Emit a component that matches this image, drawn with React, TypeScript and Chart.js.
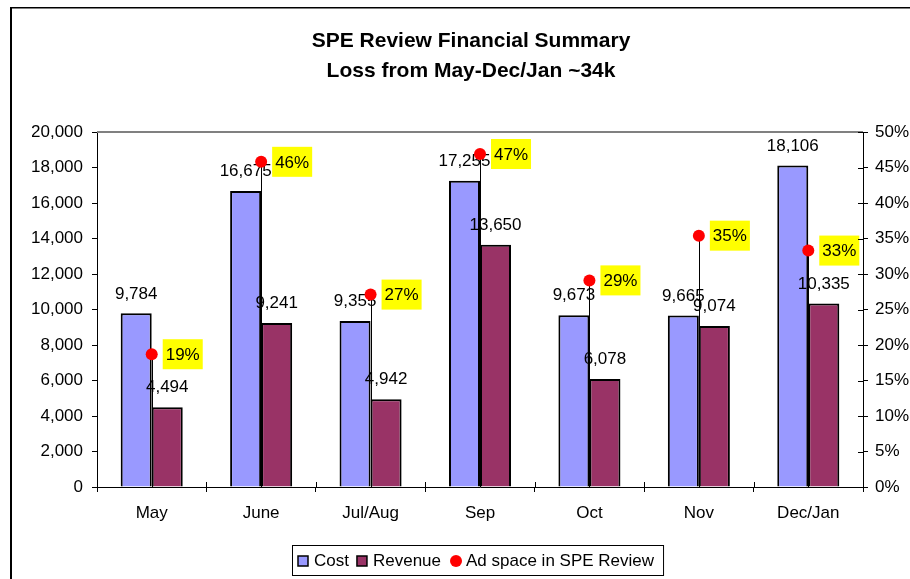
import React, { useEffect, useRef } from "react";
import { Chart, registerables } from "chart.js";

Chart.register(...registerables);

// ---------- data ----------
const categories = ["May", "June", "Jul/Aug", "Sep", "Oct", "Nov", "Dec/Jan"];
const costValues = [9784, 16675, 9355, 17255, 9673, 9665, 18106];
const revenueValues = [4494, 9241, 4942, 13650, 6078, 9074, 10335];
const adSpaceShare = [0.187, 0.458, 0.271, 0.469, 0.291, 0.354, 0.333];
const titleLines = ["SPE Review Financial Summary", "Loss from May-Dec/Jan ~34k"];
const seriesNames = ["Cost", "Revenue", "Ad space in SPE Review"];
const leftAxisMax = 20000;
const leftAxisStep = 2000;
const rightAxisMax = 0.5;
const rightAxisStep = 0.05;

const FONT = '"Liberation Sans", Arial, Helvetica, sans-serif';
const COST_COLOR = "#9999FF";
const REV_COLOR = "#993366";
const PT_COLOR = "#FF0000";

const fmtNum = (v: number) => Math.round(v).toLocaleString("en-US");
const fmtPct = (v: number) => `${Math.round(v * 100)}%`;

const decorPlugin = {
  id: "decor",
  beforeDraw(chart: any) {
    const ctx = chart.ctx;
    ctx.save();
    ctx.fillStyle = "#fff";
    ctx.fillRect(0, 0, chart.width, chart.height);
    ctx.fillStyle = "#000";
    ctx.fillRect(10, 7, chart.width - 10, 1.5);
    ctx.fillRect(10, 7, 2, chart.height - 7);
    ctx.restore();
  },
  beforeDatasetsDraw(chart: any) {
    const ctx = chart.ctx;
    const meta = chart.getDatasetMeta(2);
    const bottom = chart.chartArea.bottom;
    ctx.save();
    ctx.strokeStyle = "#000";
    ctx.lineWidth = 1;
    meta.data.forEach((pt: any) => {
      const x = Math.round(pt.x) + 0.5;
      ctx.beginPath();
      ctx.moveTo(x, pt.y);
      ctx.lineTo(x, bottom);
      ctx.stroke();
    });
    ctx.restore();
  },
  afterDatasetDraw(chart: any, args: any) {
    const ctx = chart.ctx;
    const idx = args.index;
    ctx.save();
    ctx.font = `17px ${FONT}`;
    ctx.textBaseline = "middle";
    if (idx === 0) {
      // cost is the last bar dataset drawn: label both bar series now
      ctx.textAlign = "center";
      ctx.fillStyle = "#000";
      [0, 1].forEach((d) => {
        const meta = chart.getDatasetMeta(d);
        const ds = chart.data.datasets[d];
        meta.data.forEach((el: any, j: number) => {
          ctx.fillText(fmtNum(ds.data[j]), el.x, el.y - 19.5);
        });
      });
    } else if (idx === 2) {
      const meta = chart.getDatasetMeta(2);
      const ds = chart.data.datasets[2];
      ctx.textAlign = "left";
      meta.data.forEach((el: any, j: number) => {
        const txt = fmtPct(ds.data[j]);
        const w = ctx.measureText(txt).width;
        ctx.fillStyle = "#FFFF00";
        ctx.fillRect(el.x + 11, el.y - 15, w + 6, 30);
        ctx.fillStyle = "#000";
        ctx.fillText(txt, el.x + 14, el.y + 1);
      });
    }
    ctx.restore();
  },
  afterDraw(chart: any) {
    const ctx = chart.ctx;
    const { left, right, top, bottom } = chart.chartArea;
    ctx.save();
    // plot area top border
    ctx.strokeStyle = "#808080";
    ctx.lineWidth = 2;
    ctx.beginPath();
    ctx.moveTo(left, top);
    ctx.lineTo(right, top);
    ctx.stroke();
    // inside parts of cross tick marks
    ctx.strokeStyle = "#000";
    ctx.lineWidth = 1;
    const n = categories.length;
    for (let i = 0; i <= n; i++) {
      const x = Math.round(left + (i * (right - left)) / n) + 0.5;
      ctx.beginPath();
      ctx.moveTo(x, bottom);
      ctx.lineTo(x, bottom - 5);
      ctx.stroke();
    }
    const y1 = chart.scales.y1;
    y1.ticks.forEach((t: any) => {
      const y = Math.round(y1.getPixelForValue(t.value)) + 0.5;
      ctx.beginPath();
      ctx.moveTo(right, y);
      ctx.lineTo(right - 5, y);
      ctx.stroke();
    });
    // legend
    ctx.font = `17px ${FONT}`;
    ctx.textBaseline = "middle";
    ctx.textAlign = "left";
    const boxL = 292;
    const boxT = 545;
    const boxH = 30;
    const cy = boxT + boxH / 2;
    let x = boxL + 6;
    const sq = (color: string) => {
      ctx.fillStyle = color;
      ctx.fillRect(x, cy - 4, 10, 10);
      ctx.strokeStyle = "#000";
      ctx.lineWidth = 1.5;
      ctx.strokeRect(x, cy - 4, 10, 10);
      x += 16;
    };
    const txt = (s: string, gap: number) => {
      ctx.fillStyle = "#000";
      ctx.fillText(s, x, cy + 1);
      x += ctx.measureText(s).width + gap;
    };
    sq(COST_COLOR);
    txt(seriesNames[0], 8);
    sq(REV_COLOR);
    txt(seriesNames[1], 9);
    ctx.fillStyle = PT_COLOR;
    ctx.beginPath();
    ctx.arc(x + 6, cy + 1, 6, 0, Math.PI * 2);
    ctx.fill();
    x += 16;
    txt(seriesNames[2], 9);
    ctx.strokeStyle = "#000";
    ctx.lineWidth = 1;
    ctx.strokeRect(boxL + 0.5, boxT + 0.5, x - boxL, boxH);
    ctx.restore();
  },
};

export default function App() {
  const ref = useRef<HTMLCanvasElement | null>(null);
  useEffect(() => {
    if (!ref.current) return;
    const tickFont = { family: FONT, size: 17 };
    const chart = new Chart(ref.current, {
      type: "bar",
      data: {
        labels: categories,
        datasets: [
          {
            label: seriesNames[0],
            data: costValues,
            backgroundColor: COST_COLOR,
            borderColor: "#000",
            borderWidth: 2,
            yAxisID: "y",
            order: 1,
            barPercentage: 1,
            categoryPercentage: 0.567,
          },
          {
            label: seriesNames[1],
            data: revenueValues,
            backgroundColor: REV_COLOR,
            borderColor: "#000",
            borderWidth: 2,
            yAxisID: "y",
            order: 1,
            barPercentage: 1,
            categoryPercentage: 0.567,
          },
          {
            type: "line",
            label: seriesNames[2],
            data: adSpaceShare,
            showLine: false,
            pointRadius: 6,
            pointBackgroundColor: PT_COLOR,
            pointBorderColor: PT_COLOR,
            pointBorderWidth: 0,
            yAxisID: "y1",
            order: 0,
          } as any,
        ],
      },
      options: {
        responsive: false,
        animation: false,
        layout: { padding: { left: 32, right: 0, top: 0, bottom: 52 } },
        plugins: {
          legend: { display: false },
          tooltip: { enabled: false },
          title: {
            display: true,
            text: titleLines,
            color: "#000",
            font: { family: FONT, size: 21, weight: "bold", lineHeight: "30px" } as any,
            padding: { top: 26, bottom: 46 },
          },
        },
        scales: {
          x: {
            afterFit: (s: any) => {
              s.height = 40;
            },
            grid: { display: true, drawOnChartArea: false, tickLength: 5, color: "#000", offset: true },
            border: { display: true, color: "#000", width: 1 },
            ticks: { font: tickFont, color: "#000", padding: 11, maxRotation: 0, autoSkip: false },
          },
          y: {
            position: "left",
            min: 0,
            max: leftAxisMax,
            afterFit: (s: any) => {
              s.width = 65;
            },
            grid: { display: true, drawOnChartArea: false, tickLength: 5, color: "#000" },
            border: { display: true, color: "#000", width: 1 },
            ticks: {
              stepSize: leftAxisStep,
              font: tickFont,
              color: "#000",
              padding: 9,
              autoSkip: false,
              callback: (v: any) => fmtNum(Number(v)),
            },
          },
          y1: {
            position: "right",
            min: 0,
            max: rightAxisMax,
            afterFit: (s: any) => {
              s.width = 47;
            },
            grid: { display: true, drawOnChartArea: false, tickLength: 5, color: "#000" },
            border: { display: true, color: "#000", width: 1 },
            ticks: {
              stepSize: rightAxisStep,
              font: tickFont,
              color: "#000",
              padding: 7,
              autoSkip: false,
              callback: (v: any) => fmtPct(Number(v)),
            },
          },
        },
      },
      plugins: [decorPlugin],
    });
    return () => chart.destroy();
  }, []);
  return (
    <div style={{ position: "fixed", left: 0, top: 0, width: 910, height: 579, background: "#fff" }}>
      <canvas ref={ref} width={910} height={579} style={{ display: "block" }} />
    </div>
  );
}
